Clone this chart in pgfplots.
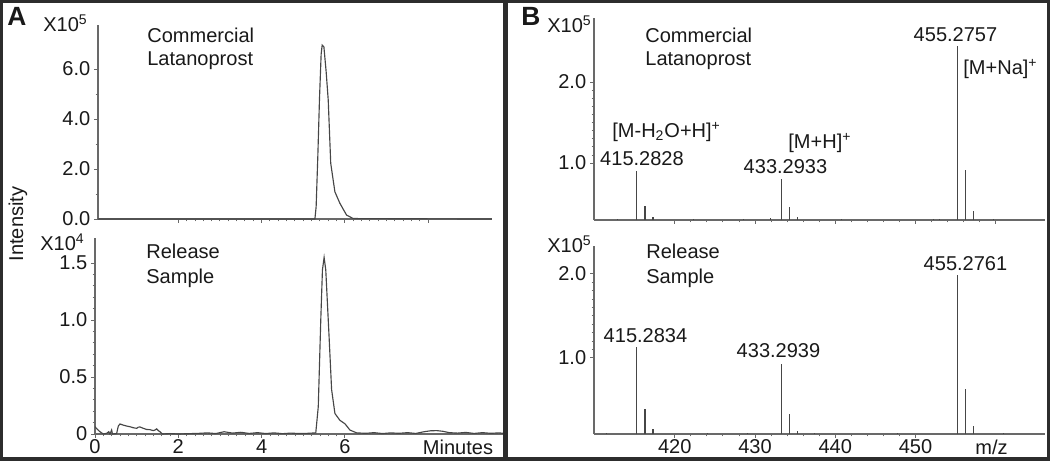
\documentclass[border=0pt]{standalone}
\usepackage{fontspec}
\setmainfont{Liberation Sans}
\usepackage{pgfplots}
\pgfplotsset{compat=1.18}
\definecolor{trace}{RGB}{70,70,70}
\definecolor{axisgray}{RGB}{105,105,105}
\definecolor{ink}{RGB}{25,25,25}
\definecolor{framecol}{RGB}{45,45,45}
\newcommand\tf{\fontsize{11.4}{13}\selectfont}

\pgfplotsset{
  panel/.style={
    scale only axis,
    anchor=south west,
    axis lines*=left,
    axis line style={axisgray, line width=0.85pt},
    every tick/.style={axisgray, line width=0.5pt},
    tick align=outside,
    major tick length=2.2pt,
    minor tick length=1.3pt,
    tick label style={font=\tf, text=ink},
    xticklabel style={inner sep=1pt},
    yticklabel style={inner sep=2pt},
  },
  chrom/.style={trace, line width=0.65pt, mark=none},
  stick/.style={ycomb, trace, line width=0.65pt, mark=none},
  noise/.style={ycomb, trace, line width=0.4pt, mark=none},
}

\begin{document}
\begin{tikzpicture}
\path (0,0) rectangle (21cm,9.22cm);

% A: chromatogram, commercial
\begin{axis}[panel, at={(1.96cm,4.84cm)}, width=7.88cm, height=3.88cm,
  xmin=0.072, xmax=9.53, ymin=0, ymax=7.76,
  xtick={2,4,6,8}, xticklabels={}, minor x tick num=9,
  ytick={0,2,4,6}, yticklabels={0.0,2.0,4.0,6.0}, minor y tick num=1]
\addplot[chrom] coordinates {(0.072,0) (5.28,0) (5.31,0.5) (5.35,2.5) (5.39,4.8)
  (5.43,6.6) (5.455,6.96) (5.496,6.89) (5.55,5.9) (5.60,4.76) (5.66,2.23)
  (5.76,1.09) (5.88,0.63) (6.04,0.16) (6.20,0.02) (9.53,0)};
\end{axis}

% A: chromatogram, release sample
\begin{axis}[panel, at={(1.9cm,0.54cm)}, width=8.2cm, height=3.92cm,
  xmin=0, xmax=9.84, ymin=0, ymax=1.72,
  xtick={0,2,4,6}, xticklabels={0,2,4,6}, minor x tick num=9,
  ytick={0,0.5,1,1.5}, yticklabels={0,0.5,1.0,1.5}, minor y tick num=4]
\addplot[chrom] coordinates {(0,0.064) (0.06,0.04) (0.12,0.02) (0.2,0.0)
  (0.28,0.006) (0.33,0.02) (0.36,0.0) (0.40,0.035) (0.42,0.0) (0.52,0.004)
  (0.56,0.07) (0.60,0.088) (0.68,0.078) (0.76,0.07) (0.84,0.064) (0.92,0.055)
  (1.0,0.05) (1.04,0.06) (1.08,0.062) (1.16,0.05) (1.24,0.04) (1.32,0.038)
  (1.40,0.03) (1.44,0.035) (1.48,0.045) (1.52,0.03) (1.56,0.02) (1.62,0.0)
  (1.8,0.004) (2.0,0.0) (2.5,0.006) (2.7,0.01) (2.9,0.004) (3.1,0.02)
  (3.3,0.008) (3.5,0.015) (3.7,0.005) (3.9,0.012) (4.1,0.004) (4.3,0.01)
  (4.5,0.003) (4.7,0.008) (4.9,0.004) (5.1,0.006) (5.30,0.01) (5.36,0.24)
  (5.42,1.0) (5.46,1.44) (5.50,1.55) (5.54,1.44) (5.62,0.85) (5.68,0.39)
  (5.76,0.18) (5.88,0.12) (6.0,0.09) (6.12,0.035) (6.28,0.01) (6.5,0.006)
  (6.7,0.012) (6.9,0.004) (7.1,0.01) (7.3,0.006) (7.5,0.012) (7.7,0.005)
  (7.9,0.02) (8.05,0.028) (8.2,0.03) (8.35,0.024) (8.5,0.012) (8.7,0.008)
  (8.9,0.014) (9.1,0.005) (9.3,0.012) (9.5,0.006) (9.7,0.01) (9.84,0.004)};
\end{axis}

% B: mass spectrum, commercial
\begin{axis}[panel, at={(11.88cm,4.82cm)}, width=9.02cm, height=4.04cm,
  xmin=409.92, xmax=466.12, ymin=0.296, ymax=2.79,
  xtick={420,430,440,450,460}, xticklabels={}, minor x tick num=4,
  ytick={1,2}, yticklabels={1.0,2.0}, minor y tick num=9]
\addplot[stick] coordinates {(415.28,0.90) (416.29,0.47) (417.29,0.33)
  (433.29,0.80) (434.30,0.457) (435.30,0.33)
  (455.28,2.44) (456.28,0.91) (457.28,0.41)};
\addplot[noise] coordinates {(412.8,0.315) (422.3,0.305) (428.6,0.31)
  (431.9,0.32) (440.7,0.305) (452.2,0.315) (453.0,0.31) (459.7,0.305)};
\end{axis}

% B: mass spectrum, release sample
\begin{axis}[panel, at={(11.88cm,0.54cm)}, width=9.02cm, height=3.76cm,
  xmin=409.92, xmax=466.12, ymin=0.095, ymax=2.33,
  xtick={420,430,440,450}, xticklabels={420,430,440,450}, minor x tick num=4,
  ytick={1,2}, yticklabels={1.0,2.0}, minor y tick num=9]
\addplot[stick] coordinates {(415.28,1.13) (416.29,0.39) (417.29,0.155)
  (433.29,0.93) (434.30,0.33) (435.30,0.13)
  (455.28,1.99) (456.28,0.63) (457.28,0.19)};
\addplot[noise] coordinates {(411.5,0.105) (424.0,0.105) (429.1,0.11)
  (437.4,0.105) (447.8,0.105) (461.0,0.105)};
\end{axis}

\begin{scope}[x=0.02cm, y=0.02cm, every node/.style={inner sep=0pt, text=ink, font=\tf}]
% frame and divider
\draw[framecol, line width=0.06cm] (1.5,1.5) rectangle (1048.5,459.5);
\fill[framecol] (0,0) rectangle (1050,4.5);
\fill[framecol] (503,0) rectangle (508,461);
% panel A text
\node[anchor=base west, font=\fontsize{15}{17}\selectfont\bfseries] at (7,436) {A};
\node[anchor=base west] at (43,430) {X10\textsuperscript{5}};
\node[anchor=base west] at (147,419) {Commercial};
\node[anchor=base west] at (147,396) {Latanoprost};
\node[anchor=base west] at (40,211) {X10\textsuperscript{4}};
\node[anchor=base west] at (146,203) {Release};
\node[anchor=base west] at (146,178) {Sample};
\node[anchor=base] at (458,7) {Minutes};
\node[rotate=90] at (18,237) {Intensity};
% panel B text
\node[anchor=base west, font=\fontsize{15}{17}\selectfont\bfseries] at (521,436) {B};
\node[anchor=base west] at (547,429) {X10\textsuperscript{5}};
\node[anchor=base west] at (645,419) {Commercial};
\node[anchor=base west] at (645,396) {Latanoprost};
\node[anchor=base] at (955.5,420) {455.2757};
\node[anchor=base west] at (963,387) {[M+Na]\textsuperscript{+}};
\node[anchor=base west] at (612,324) {[M-H\textsubscript{2}O+H]\textsuperscript{+}};
\node[anchor=base] at (642,296) {415.2828};
\node[anchor=base west] at (788,313) {[M+H]\textsuperscript{+}};
\node[anchor=base] at (785.5,288) {433.2933};
\node[anchor=base west] at (547,209) {X10\textsuperscript{5}};
\node[anchor=base west] at (646,203) {Release};
\node[anchor=base west] at (646,178) {Sample};
\node[anchor=base] at (965.5,191) {455.2761};
\node[anchor=base] at (645.5,119) {415.2834};
\node[anchor=base] at (778.5,104) {433.2939};
\node[anchor=base] at (991.5,7) {m/z};
\end{scope}
\end{tikzpicture}
\end{document}
